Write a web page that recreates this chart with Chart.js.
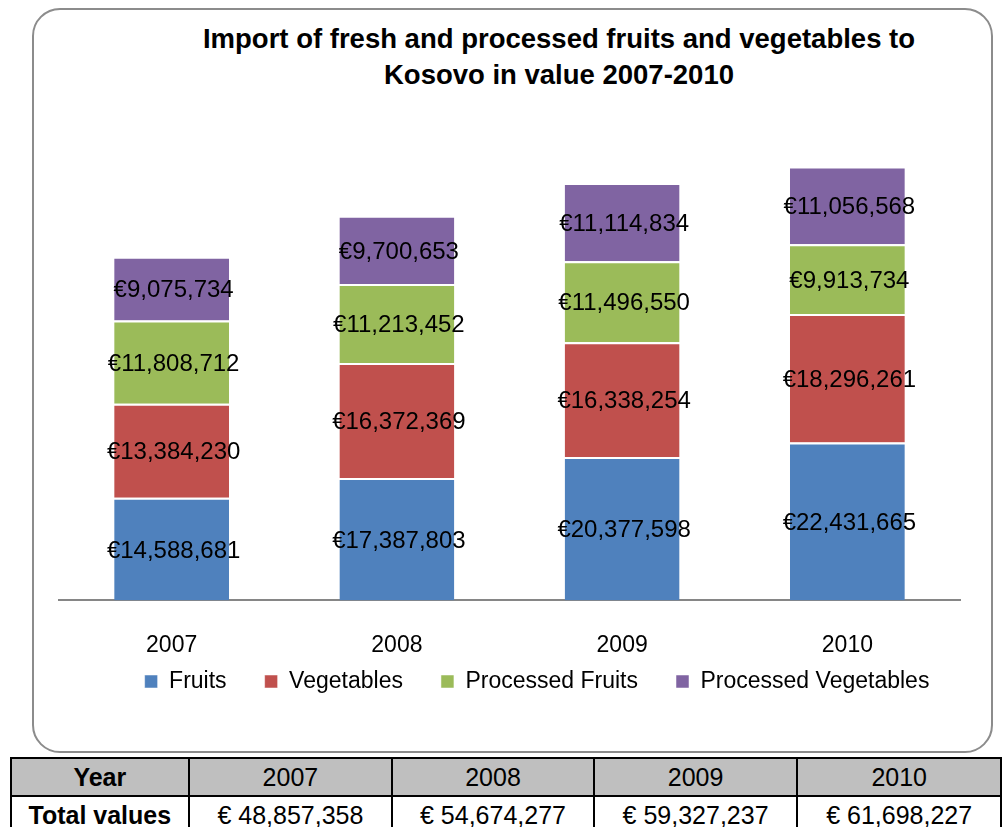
<!DOCTYPE html>
<html>
<head>
<meta charset="utf-8">
<script src="https://cdn.jsdelivr.net/npm/chart.js@4"></script>
<style>
  html, body { margin: 0; padding: 0; background: #fff; overflow: hidden; }
  body { width: 1002px; height: 827px; position: relative; font-family: "Liberation Sans", Arial, sans-serif; }
  #box { position: absolute; left: 32px; top: 8px; width: 957px; height: 741px; border: 2px solid #8c8c8c; border-radius: 28px; }
  #titre { position: absolute; left: 150px; top: 21px; width: 818px; text-align: center; font-weight: bold; font-size: 27.5px; line-height: 36px; color: #000; }
  #zone { position: absolute; left: 32px; top: 8px; width: 983px; height: 753px; }
  #tableau { position: absolute; left: 10px; top: 757px; border-collapse: collapse; font-size: 25px; background: #fff; }
  #tableau td { border: 2px solid #000; text-align: center; padding: 0; height: 36px; }
  #tableau tr:first-child td { background: #bfbfbf; }
</style>
</head>
<body>
<div id="box"></div>
<div id="titre">Import of fresh and processed fruits and vegetables to<br>Kosovo in value 2007-2010</div>
<div id="zone"><canvas id="myChart"></canvas></div>
<table id="tableau">
  <tr id="ligneAnnees"></tr>
  <tr id="ligneTotaux"></tr>
</table>
<script>
// donnees
const annees = ['2007', '2008', '2009', '2010'];
const fruits = [14588681, 17387803, 20377598, 22431665];
const legumes = [13384230, 16372369, 16338254, 18296261];
const fruitsTransformes = [11808712, 11213452, 11496550, 9913734];
const legumesTransformes = [9075734, 9700653, 11114834, 11056568];
const totaux = ['€ 48,857,358', '€ 54,674,277', '€ 59,327,237', '€ 61,698,227'];

// tableau sous le graphique
const largeurs = [180, 205, 203, 205, 205];
let html1 = '<td style="width:' + largeurs[0] + 'px"><b>Year</b></td>';
let html2 = '<td><b>Total values</b></td>';
annees.forEach((a, i) => {
    html1 += '<td style="width:' + largeurs[i + 1] + 'px">' + a + '</td>';
    html2 += '<td>' + totaux[i] + '</td>';
});
document.getElementById('ligneAnnees').innerHTML = html1;
document.getElementById('ligneTotaux').innerHTML = html2;

// etiquettes au centre de chaque segment
const etiquettes = {
    id: 'etiquettes',
    afterDatasetsDraw(chart) {
        const ctx = chart.ctx;
        ctx.save();
        ctx.font = '24px "Liberation Sans", Arial, sans-serif';
        ctx.fillStyle = '#000';
        ctx.textAlign = 'center';
        ctx.textBaseline = 'middle';
        chart.data.datasets.forEach((ds, i) => {
            chart.getDatasetMeta(i).data.forEach((bar, j) => {
                const p = bar.getProps(['x', 'y', 'base'], true);
                ctx.fillText('€' + ds.data[j].toLocaleString('en-US'), p.x + 2, (p.y + p.base) / 2 + 2);
            });
        });
        ctx.restore();
    }
};

// la legende est remontee plus pres des annees (padding vertical trop grand sinon)
const remonterLegende = {
    id: 'remonterLegende',
    afterLayout(chart) {
        chart.legend.top -= 58;
        chart.legend.bottom -= 58;
    }
};

function serie(label, data, couleur) {
    return {
        label: label,
        data: data,
        backgroundColor: couleur,
        borderColor: '#ffffff',
        borderWidth: { top: 2, bottom: 0, left: 0, right: 0 },
        borderSkipped: false,
        categoryPercentage: 1,
        barPercentage: 0.51
    };
}

let ctx = document.getElementById('myChart').getContext('2d');
let myChart = new Chart(ctx, {
    type: 'bar',
    data: {
        labels: annees,
        datasets: [
            serie('Fruits', fruits, '#4f81bd'),
            serie('Vegetables', legumes, '#c0504d'),
            serie('Processed Fruits', fruitsTransformes, '#9bbb59'),
            serie('Processed Vegetables', legumesTransformes, '#8064a2')
        ]
    },
    options: {
        responsive: true,
        maintainAspectRatio: false,
        animation: false,
        layout: { padding: { top: 100, left: 27, right: 0, bottom: 0 } },
        plugins: {
            title: { display: false },
            tooltip: { enabled: false },
            legend: {
                position: 'bottom',
                labels: {
                    boxWidth: 13,
                    boxHeight: 13,
                    padding: 38,
                    color: '#000',
                    font: { family: '"Liberation Sans", Arial, sans-serif', size: 23 }
                }
            }
        },
        scales: {
            x: {
                stacked: true,
                grid: { display: false, drawTicks: false },
                border: { display: true, color: '#868686', width: 2 },
                ticks: {
                    padding: 31,
                    color: '#000',
                    font: { family: '"Liberation Sans", Arial, sans-serif', size: 23 }
                }
            },
            y: {
                stacked: true,
                position: 'right',
                min: 0,
                max: 70000000,
                grid: { display: false },
                border: { display: false },
                ticks: { display: false },
                afterFit: (scale) => { scale.width = 55; }
            }
        }
    },
    plugins: [etiquettes, remonterLegende]
});
</script>
</body>
</html>
